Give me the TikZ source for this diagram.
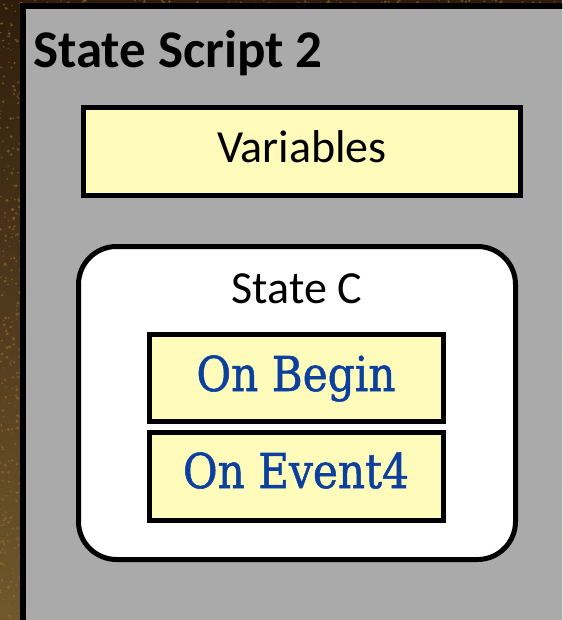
\documentclass[tikz,border=0pt]{standalone}
\usepackage{fontspec}
\usepackage{graphicx}
\setmainfont{Carlito}
\newfontfamily\typefont[RawFeature={embolden=1.2}]{DejaVu Serif}
\definecolor{panelgray}{RGB}{170,170,170}
\definecolor{boxyellow}{RGB}{255,251,187}
\definecolor{codeblue}{RGB}{12,64,158}
\definecolor{woodtop}{RGB}{48,28,12}
\definecolor{woodbot}{RGB}{112,88,44}
\definecolor{speck}{RGB}{150,110,50}
\tikzset{
  yellowbox/.style={draw=black, line width=5pt, fill=boxyellow},
  statebox/.style={draw=black, line width=5pt, fill=white, rounded corners=38pt},
  codetext/.style={anchor=base, text=codeblue, font=\typefont\fontsize{48}{52}\selectfont, inner sep=0pt},
  plaintext/.style={anchor=base, font=\fontsize{46}{52}\selectfont, inner sep=0pt},
}
\begin{document}
\begin{tikzpicture}[x=1pt,y=-1pt]
\useasboundingbox (0,0) rectangle (562,620);
\clip (0,0) rectangle (562,620);
% textured background
\shade[top color=woodtop, bottom color=woodbot] (0,0) rectangle (562,620);
\pgfmathsetseed{7}
\foreach \i in {1,...,260}{
  \fill[speck, opacity=0.6] (rnd*22, rnd*620) circle (0.5+rnd*1.2);
}
\foreach \i in {1,...,80}{
  \fill[speck, opacity=0.6] (rnd*562, rnd*4) circle (0.5+rnd*1);
}
% panel
\draw[draw=black, fill=panelgray, line width=6pt] (23,6) rectangle (580,640);
\node[anchor=base west, inner sep=0pt, font=\bfseries\fontsize{53}{60}\selectfont] (title) at (33,68) {State Script 2};
% variables
\draw[yellowbox] (83.5,107.5) rectangle (520.5,195.5);
\node[plaintext] (vars) at (302,163) {Variables};
% state C
\draw[statebox] (78.5,246.5) rectangle (515.5,559.5);
\node[plaintext] (statec) at (297,303) {State C};
% handlers
\draw[yellowbox] (149.5,334.5) rectangle (443.5,421.5);
\node[codetext] (onbegin) at (296,391) {\scalebox{0.88}[1]{On Begin}};
\draw[yellowbox] (149.5,432.5) rectangle (443.5,520.5);
\node[codetext] (onevent) at (296,488) {\scalebox{0.88}[1]{On Event4}};
\end{tikzpicture}
\end{document}
